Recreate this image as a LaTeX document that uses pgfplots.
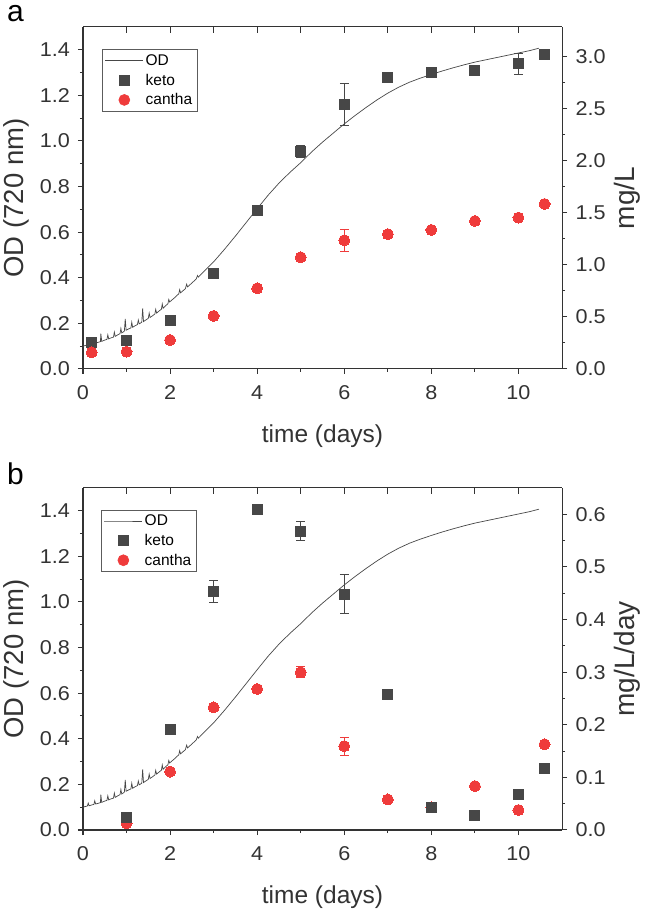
\documentclass[border=0pt]{standalone}
\usepackage{fontspec}
\setmainfont{Liberation Sans}
\usepackage{pgfplots}
\pgfplotsset{compat=1.18}
\usepackage{pgfplotstable}
\definecolor{ketoc}{HTML}{474747}
\definecolor{canthac}{HTML}{EF3B3B}
\definecolor{axc}{HTML}{333333}

\pgfplotstableread{
t od
0.00 0.100
0.05 0.103
0.10 0.105
0.12 0.118
0.14 0.106
0.20 0.110
0.25 0.112
0.27 0.128
0.29 0.114
0.35 0.117
0.40 0.120
0.41 0.155
0.43 0.121
0.50 0.127
0.55 0.130
0.57 0.150
0.59 0.132
0.65 0.137
0.70 0.140
0.72 0.162
0.74 0.143
0.80 0.150
0.85 0.155
0.87 0.178
0.89 0.158
0.95 0.166
0.97 0.220
0.99 0.170
1.05 0.176
1.10 0.180
1.12 0.205
1.14 0.183
1.20 0.190
1.25 0.195
1.27 0.215
1.29 0.198
1.35 0.205
1.37 0.266
1.39 0.208
1.45 0.216
1.50 0.222
1.52 0.245
1.54 0.226
1.60 0.234
1.65 0.241
1.67 0.262
1.69 0.245
1.75 0.255
1.80 0.262
1.82 0.285
1.84 0.266
1.90 0.278
1.95 0.286
1.97 0.305
1.99 0.294
2.10 0.312
2.20 0.330
2.22 0.348
2.24 0.334
2.35 0.352
2.38 0.372
2.40 0.360
2.50 0.377
2.60 0.395
2.63 0.410
2.65 0.403
2.80 0.432
3.00 0.470
3.25 0.525
3.50 0.583
3.75 0.643
4.00 0.703
4.25 0.762
4.50 0.815
4.75 0.862
5.00 0.905
5.25 0.952
5.50 0.995
5.75 1.035
6.00 1.075
6.25 1.112
6.50 1.147
6.75 1.180
7.00 1.210
7.25 1.236
7.50 1.258
7.75 1.276
8.00 1.292
8.25 1.307
8.50 1.321
8.75 1.334
9.00 1.346
9.25 1.356
9.50 1.366
9.75 1.376
10.00 1.386
10.25 1.396
10.47 1.407
}\odtable

\pgfplotstableread{
x y e
0.2 0.256 0
1 0.278 0
2 0.464 0
3 0.918 0
4 1.520 0
5 2.085 0.06
6 2.537 0.205
7 2.800 0
8 2.840 0
9 2.865 0
10 2.930 0.10
10.6 3.020 0
}\ketoA

\pgfplotstableread{
x y e
0.2 0.160 0
1 0.166 0
2 0.278 0
3 0.509 0
4 0.774 0
5 1.072 0
6 1.235 0.104
7 1.293 0
8 1.334 0
9 1.420 0
10 1.452 0.04
10.6 1.583 0
}\canthaA

\pgfplotstableread{
x y e
1 0.023 0
2 0.191 0
3 0.454 0.021
4 0.609 0
5 0.568 0.018
6 0.448 0.037
7 0.258 0
8 0.043 0
9 0.0285 0
10 0.068 0
10.6 0.116 0
}\ketoB

\pgfplotstableread{
x y e
1 0.0127 0
2 0.111 0
3 0.233 0
4 0.268 0
5 0.300 0.01
6 0.1595 0.017
7 0.058 0
8 0.043 0
9 0.0835 0
10 0.038 0
10.6 0.163 0
}\canthaB

\pgfplotsset{
  base/.style={
    scale only axis, width=479pt, height=342pt,
    anchor=south west,
    xmin=0, xmax=11,
    axis line style={axc, line width=1pt},
    every tick/.style={axc, line width=1pt},
    tick label style={font=\fontsize{20}{24}\selectfont, text=axc, xscale=1.08},
    label style={text=axc},
    /pgf/number format/assume math mode=true,
  },
  leftax/.style={
    base,
    axis x line*=bottom, axis y line*=left,
    tick align=outside,
    major tick length=5pt, minor tick length=3pt,
    ymin=0, ymax=1.5,
    ytick={0,0.2,0.4,0.6,0.8,1.0,1.2,1.4},
    minor y tick num=1,
    xtick={0,2,4,6,8,10}, minor x tick num=1,
    yticklabel style={xshift=-4pt, /pgf/number format/.cd, fixed, fixed zerofill, precision=1},
    xticklabel style={yshift=-8pt},
    xlabel={time (days)}, ylabel={OD (720 nm)},
    xlabel style={at={(axis description cs:0.5,-0.196)}, anchor=center,
      font=\fontsize{24.5}{28}\selectfont},
    ylabel style={at={(axis description cs:-0.140,0.5)}, anchor=center,
      font=\fontsize{27.5}{32}\selectfont},
  },
  topax/.style={
    base,
    axis x line*=top, axis y line=none,
    tick align=inside,
    major tick length=6pt, minor tick length=6pt,
    ymin=0, ymax=1,
    xtick={0,2,4,6,8,10}, minor x tick num=1,
    xticklabels={},
  },
  rightax/.style={
    base,
    axis y line*=right, axis x line=none,
    tick align=outside,
    major tick length=5pt, minor tick length=3pt,
    minor y tick num=1,
    yticklabel style={xshift=4.5pt, /pgf/number format/.cd, fixed, fixed zerofill, precision=1},
    ylabel style={at={(axis description cs:1.1357,0.5)}, anchor=center,
      font=\fontsize{28}{32}\selectfont},
    legend cell align=left,
    legend style={at={(axis description cs:0.039,0.935)}, anchor=north west,
      draw=axc!80, line width=0.6pt, font=\fontsize{15.5}{18}\selectfont,
      inner sep=3pt, row sep=3pt,
      /tikz/every odd column/.append style={column sep=0pt},
      /tikz/every even column/.append style={column sep=3pt}},
    legend image code/.code={\draw[mark repeat=2,mark phase=2,##1] plot coordinates {(0pt,0pt)(19pt,0pt)(38pt,0pt)};},
  },
  ketost/.style={only marks, mark=square*, mark size=5pt,
    mark options={fill=ketoc, draw=ketoc, line width=0pt}, color=ketoc,
    error bars/.cd, y dir=both, y explicit,
    error bar style={line width=0.8pt, ketoc},
    error mark options={rotate=90, mark size=4.5pt, line width=0.8pt, ketoc}},
  canthast/.style={only marks, mark=*, mark size=5.5pt,
    mark options={fill=canthac, draw=canthac, line width=0pt}, color=canthac,
    error bars/.cd, y dir=both, y explicit,
    error bar style={line width=0.8pt, canthac},
    error mark options={rotate=90, mark size=4.5pt, line width=0.8pt, canthac}},
}

\begin{document}
\begin{tikzpicture}
\useasboundingbox (0pt,0pt) rectangle (646pt,913pt);

% ---------- panel a ----------
\begin{axis}[leftax, at={(83pt,544pt)}]
\addplot[ketoc, line width=0.7pt] table[x=t,y=od]{\odtable};
\end{axis}
\begin{axis}[topax, at={(83pt,544pt)}]
\end{axis}
\begin{axis}[rightax, at={(83pt,544pt)}, ymin=0, ymax=3.28,
  ytick={0,0.5,1.0,1.5,2.0,2.5,3.0}, ylabel={mg/L}]
\addlegendimage{ketoc, line width=0.7pt}\addlegendentry{OD}
\addlegendimage{only marks, mark=square*, mark size=5pt, ketoc}\addlegendentry{keto}
\addlegendimage{only marks, mark=*, mark size=5.5pt, canthac}\addlegendentry{cantha}
\addplot[forget plot, ketost] table[x=x,y=y,y error=e]{\ketoA};
\addplot[forget plot, canthast] table[x=x,y=y,y error=e]{\canthaA};
\end{axis}
\node[anchor=base west, inner sep=0pt, font=\fontsize{30}{36}\selectfont] at (7pt,891pt) {a};

% ---------- panel b ----------
\begin{axis}[leftax, at={(83pt,83pt)}]
\addplot[ketoc, line width=0.7pt] table[x=t,y=od]{\odtable};
\end{axis}
\begin{axis}[topax, at={(83pt,83pt)}]
\end{axis}
\begin{axis}[rightax, at={(83pt,83pt)}, ymin=0, ymax=0.65,
  ytick={0,0.1,0.2,0.3,0.4,0.5,0.6}, ylabel={mg/L/day},
  legend style={at={(axis description cs:0.037,0.937)}}]
\addlegendimage{ketoc, line width=0.7pt}\addlegendentry{OD}
\addlegendimage{only marks, mark=square*, mark size=5pt, ketoc}\addlegendentry{keto}
\addlegendimage{only marks, mark=*, mark size=5.5pt, canthac}\addlegendentry{cantha}
\addplot[forget plot, canthast] table[x=x,y=y,y error=e]{\canthaB};
\addplot[forget plot, ketost] table[x=x,y=y,y error=e]{\ketoB};
\end{axis}
\node[anchor=base west, inner sep=0pt, font=\fontsize{30}{36}\selectfont] at (7pt,428pt) {b};
\end{tikzpicture}
\end{document}
